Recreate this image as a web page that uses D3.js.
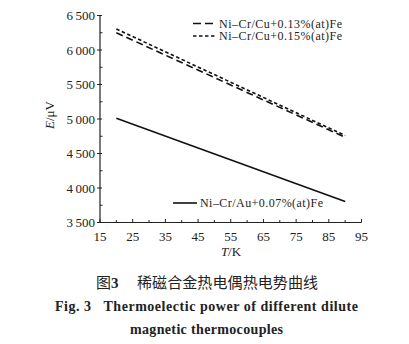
<!DOCTYPE html>
<html><head><meta charset="utf-8">
<script src="https://cdn.jsdelivr.net/npm/d3@7"></script>
<style>body{margin:0;background:#fff}svg{display:block}</style>
</head><body>
<script>
const temps = [20, 90];
const seriesNames = ["Ni–Cr/Cu+0.13%(at)Fe", "Ni–Cr/Cu+0.15%(at)Fe", "Ni–Cr/Au+0.07%(at)Fe"];
const cu013 = [6250, 4735];
const cu015 = [6305, 4760];
const au007 = [5010, 3805];
const xTicks = [15, 25, 35, 45, 55, 65, 75, 85, 95];
const yTicks = [3500, 4000, 4500, 5000, 5500, 6000, 6500];

const W = 409, H = 344;
const svg = d3.select("body").append("svg").attr("width", W).attr("height", H);
const font = "'Liberation Serif','Times New Roman',serif";
const x = d3.scaleLinear().domain([15, 95]).range([100, 361.5]);
const y = d3.scaleLinear().domain([3500, 6500]).range([222.5, 15.5]);

const g = svg.append("g").attr("font-family", font).attr("fill", "#222");

// axes lines
g.append("line").attr("x1", 100).attr("x2", 100).attr("y1", y(6500)).attr("y2", y(3500)).attr("stroke", "#222").attr("stroke-width", 1.2);
g.append("line").attr("x1", 100).attr("x2", x(95)).attr("y1", y(3500)).attr("y2", y(3500)).attr("stroke", "#222").attr("stroke-width", 1.2);

// x ticks (inward), every 5
const xAll = d3.range(15, 96, 5);
g.selectAll(".xt").data(xAll).join("line")
  .attr("x1", d => x(d)).attr("x2", d => x(d))
  .attr("y1", y(3500)).attr("y2", d => y(3500) - (xTicks.includes(d) ? 3.5 : 2.5))
  .attr("stroke", "#222").attr("stroke-width", 1);
g.selectAll(".xl").data(xTicks).join("text")
  .attr("x", d => x(d)).attr("y", 241).attr("text-anchor", "middle")
  .attr("font-size", 13).text(d => d);

// y ticks
const yAll = d3.range(3500, 6501, 250);
g.selectAll(".yt").data(yAll).join("line")
  .attr("x1", d => yTicks.includes(d) ? 97 : 100).attr("x2", d => yTicks.includes(d) ? 102 : 102.5)
  .attr("y1", d => y(d)).attr("y2", d => y(d))
  .attr("stroke", "#222").attr("stroke-width", 1);
const fmt = v => { const s = String(v); return s.slice(0, s.length - 3) + "\u2009" + s.slice(-3); };
g.selectAll(".yl").data(yTicks).join("text")
  .attr("x", 95).attr("y", d => y(d) + 4.5).attr("text-anchor", "end")
  .attr("font-size", 13).text(d => fmt(d));

// axis titles
const yt = g.append("text").attr("transform", "translate(54,115) rotate(-90)")
  .attr("text-anchor", "middle").attr("font-size", 13);
yt.append("tspan").attr("font-style", "italic").text("E");
yt.append("tspan").text("/μV");
const xt = g.append("text").attr("x", 231).attr("y", 256).attr("text-anchor", "middle").attr("font-size", 13);
xt.append("tspan").attr("font-style", "italic").text("T");
xt.append("tspan").text("/K");

// lines
const line = d3.line().x(d => x(d[0])).y(d => y(d[1]));
const series = [
  {vals: cu013, dash: "7,4"},
  {vals: cu015, dash: "3.5,2.5"},
  {vals: au007, dash: null}
];
series.forEach(s => {
  g.append("path").datum(temps.map((t, i) => [t, s.vals[i]]))
    .attr("d", line).attr("fill", "none").attr("stroke", "#111")
    .attr("stroke-width", 1.6).attr("stroke-dasharray", s.dash);
});

// legends
const legends = [
  {x1: 193, x2: 216, y: 23.5, dash: "8,4", name: seriesNames[0]},
  {x1: 193, x2: 216, y: 36, dash: "3.5,2.5", name: seriesNames[1]},
  {x1: 173, x2: 197, y: 203, dash: null, name: seriesNames[2]}
];
legends.forEach(l => {
  g.append("line").attr("x1", l.x1).attr("x2", l.x2).attr("y1", l.y).attr("y2", l.y)
    .attr("stroke", "#111").attr("stroke-width", 1.6).attr("stroke-dasharray", l.dash);
  g.append("text").attr("x", l.x2 + 3).attr("y", l.y + 4).attr("font-size", 12)
    .attr("textLength", 123).attr("lengthAdjust", "spacing").text(l.name);
});

// captions
const cap = svg.append("g").attr("fill", "#222");
const c1 = cap.append("text").attr("y", 288).attr("font-size", 15);
c1.append("tspan").attr("x", 96).attr("font-family", "'Noto Sans CJK SC',sans-serif").text("图");
c1.append("tspan").attr("font-family", font).attr("font-weight", "bold").attr("font-size", 15).text("3");
c1.append("tspan").attr("x", 137).attr("font-family", "'Noto Sans CJK SC',sans-serif")
  .attr("textLength", 181).attr("lengthAdjust", "spacing").text("稀磁合金热电偶热电势曲线");
cap.append("text").attr("x", 55).attr("y", 311)
  .attr("font-family", font).attr("font-weight", "bold").attr("font-size", 14)
  .attr("textLength", 303).attr("lengthAdjust", "spacing")
  .attr("xml:space", "preserve").text("Fig. 3   Thermoelectic power of different dilute");
cap.append("text").attr("x", 130).attr("y", 334)
  .attr("font-family", font).attr("font-weight", "bold").attr("font-size", 14)
  .attr("textLength", 153).attr("lengthAdjust", "spacing")
  .text("magnetic thermocouples");
</script>
</body></html>
